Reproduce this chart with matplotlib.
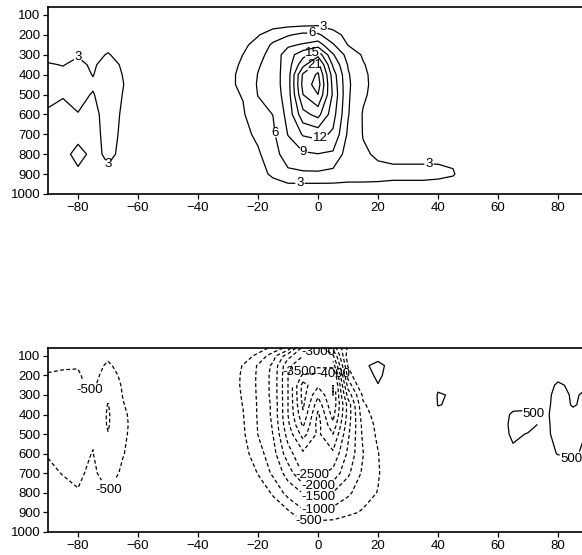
import numpy as np
import matplotlib
matplotlib.use("Agg")
import matplotlib.pyplot as plt

plt.rcParams['font.family'] = ['Liberation Sans', 'DejaVu Sans']

# grid: longitude columns and pressure rows
lon = [-90, -85, -80, -75, -70, -65, -60, -55, -50, -45, -40, -35, -30, -25, -20, -15, -10, -5,
       0, 5, 10, 15, 20, 25, 30, 35, 40, 45, 50, 55, 60, 65, 70, 75, 80, 85, 90]
lev = [60, 100, 150, 200, 250, 300, 350, 400, 450, 500, 600, 700, 800, 900, 950, 1000]

# upper panel field (rows = lev, columns = lon)
top_field = [
    [0, 0, 0, 0, 0, 0, 0, 0, 0, 0, 0, 0, 0, 0, 0, 0.3, 0.5, 0.5, 0.5, 0.3, 0.2, 0.1, 0, 0, 0, 0, 0, 0, 0, 0, 0, 0, 0, 0, 0, 0, 0],
    [0.5, 0.5, 0.5, 0.5, 0.5, 0.5, 0.3, 0.2, 0.2, 0.2, 0.2, 0.2, 0.3, 0.4, 0.6, 0.8, 1, 1, 1, 0.8, 0.5, 0.3, 0.2, 0.2, 0.2, 0.1, 0.1, 0.1, 0.1, 0.1, 0.1, 0.1, 0.1, 0.1, 0.1, 0.1, 0.1],
    [1, 1, 1, 1, 1.2, 1, 0.8, 0.5, 0.5, 0.5, 0.5, 0.5, 0.6, 0.8, 1.5, 2, 2.3, 2.5, 2.7, 2, 1.2, 0.8, 0.5, 0.4, 0.4, 0.3, 0.3, 0.2, 0.2, 0.2, 0.2, 0.2, 0.2, 0.2, 0.2, 0.2, 0.2],
    [1.5, 1.5, 1.5, 1.5, 2.0, 1.6, 1.2, 0.8, 0.8, 0.8, 0.8, 0.8, 1, 1.5, 2.8, 4.5, 5.7, 6.8, 6.5, 4, 2.2, 1.3, 1, 0.8, 0.7, 0.6, 0.5, 0.4, 0.3, 0.3, 0.3, 0.3, 0.3, 0.3, 0.3, 0.3, 0.3],
    [2, 2, 2.3, 2.2, 2.6, 2.2, 1.6, 1, 1, 1, 1, 1, 1.6, 2.4, 4.0, 6.5, 8.5, 9.3, 10.5, 6.3, 2.9, 1.8, 1.3, 1, 0.9, 0.8, 0.7, 0.6, 0.5, 0.4, 0.4, 0.4, 0.4, 0.4, 0.4, 0.4, 0.4],
    [2.6, 2.6, 2.9, 2.6, 3.1, 2.5, 1.8, 1.2, 1.2, 1.2, 1.2, 1.2, 2, 3.02, 5, 7.2, 10.5, 14, 17, 9.3, 4.8, 2.7, 1.6, 1.2, 1.1, 1, 0.9, 0.8, 0.6, 0.5, 0.5, 0.5, 0.5, 0.5, 0.5, 0.5, 0.5],
    [3.1, 2.95, 3.3, 2.8, 3.6, 2.8, 2, 1.3, 1.3, 1.3, 1.3, 1.3, 2.3, 3.3, 5.7, 7.4, 10.5, 17, 22, 11.5, 5.8, 3.2, 1.8, 1.4, 1.3, 1.2, 1, 0.9, 0.7, 0.6, 0.6, 0.6, 0.6, 0.6, 0.6, 0.6, 0.6],
    [3.4, 3.3, 3.5, 2.95, 3.8, 2.95, 2, 1.4, 1.4, 1.4, 1.4, 1.4, 2.5, 3.5, 6.1, 7.5, 10.6, 21.5, 24.5, 13.5, 6.3, 3.5, 2, 1.5, 1.4, 1.3, 1.1, 1, 0.8, 0.7, 0.7, 0.7, 0.7, 0.7, 0.7, 0.7, 0.7],
    [3.5, 3.3, 3.5, 3.2, 3.9, 3.05, 2, 1.4, 1.4, 1.4, 1.4, 1.4, 2.5, 3.5, 6.3, 7.5, 10.6, 22, 25.5, 14, 6.5, 3.6, 2, 1.5, 1.4, 1.3, 1.2, 1.1, 0.9, 0.8, 0.8, 0.8, 0.8, 0.8, 0.8, 0.8, 0.8],
    [3.4, 3.1, 3.4, 2.9, 3.9, 2.95, 2, 1.4, 1.4, 1.4, 1.4, 1.4, 2.4, 3.15, 6.1, 7.2, 10.5, 21, 24, 14.5, 6.4, 3.4, 2, 1.6, 1.5, 1.4, 1.3, 1.2, 1, 0.9, 0.9, 0.9, 0.9, 0.9, 0.9, 0.9, 0.9],
    [2.8, 2.6, 2.95, 2.5, 3.7, 2.8, 1.9, 1.3, 1.3, 1.3, 1.3, 1.3, 2.1, 2.7, 5, 6.05, 10, 17, 19, 13.2, 6.2, 2.8, 2, 1.8, 1.7, 1.6, 1.5, 1.4, 1.2, 1, 1, 1, 1, 1, 1, 1, 1],
    [2, 2, 2.2, 2.4, 3.6, 2.7, 1.8, 1.2, 1.2, 1.2, 1.2, 1.2, 1.8, 2.2, 3.6, 5.5, 9.1, 12.3, 13, 11.5, 5.5, 2.9, 2.3, 2.1, 2, 2, 1.9, 1.8, 1.5, 1.1, 1.1, 1.1, 1.1, 1.1, 1.1, 1.1, 1.1],
    [1.5, 2.2, 3.8, 2.4, 3.4, 2.6, 1.6, 1, 1, 1, 1, 1, 1.5, 1.8, 2.6, 4.8, 7.5, 8.5, 8.9, 8.5, 4.5, 3.3, 2.7, 2.5, 2.5, 2.5, 2.6, 2.6, 1.8, 1.2, 1.2, 1.2, 1.2, 1.2, 1.2, 1.2, 1.2],
    [1, 1.5, 2.5, 2.0, 2.6, 2.0, 1.2, 0.8, 0.8, 0.8, 0.8, 0.8, 1.2, 1.3, 2, 3.5, 5.3, 5.5, 5.5, 5, 3.8, 3.8, 3.6, 3.5, 3.5, 3.5, 3.4, 3.15, 2, 1.2, 1.2, 1.2, 1.2, 1.2, 1.2, 1.2, 1.2],
    [0.8, 1, 1.5, 1.5, 2, 1.5, 1, 0.6, 0.6, 0.6, 0.6, 0.6, 0.8, 1, 1.5, 2.2, 2.8, 2.8, 2.8, 2.8, 2.8, 2.8, 2.8, 2.7, 2.7, 2.7, 2.6, 2.4, 1.5, 1, 1, 1, 1, 1, 1, 1, 1],
    [0.5, 0.5, 1, 1, 1.5, 1, 0.6, 0.4, 0.4, 0.4, 0.4, 0.4, 0.5, 0.6, 1, 1.2, 1.5, 1.5, 1.5, 1.5, 1.5, 1.2, 1.2, 1, 1, 1, 1, 1, 0.8, 0.6, 0.6, 0.6, 0.6, 0.6, 0.6, 0.6, 0.6],
]

# lower panel field
bot_field = [
    [-100, -100, -150, -100, -200, -100, -80, -50, -50, -50, -50, -50, -50, -150, -300, -600, -1200, -2700, -2900, -1800, -400, 0, 200, 100, 50, 50, 100, 100, 100, 100, 150, 150, 150, 150, 200, 200, 200],
    [-300, -320, -350, -200, -400, -200, -150, -100, -100, -100, -100, -100, -150, -300, -600, -1300, -2300, -3000, -3100, -2600, -200, 100, 300, 150, 50, 50, 150, 150, 150, 150, 200, 200, 200, 200, 250, 250, 250],
    [-450, -470, -480, -300, -580, -300, -200, -120, -120, -120, -120, -120, -250, -520, -1050, -1600, -2900, -3300, -3300, -3300, -450, 400, 650, 300, 100, 100, 200, 200, 150, 200, 250, 250, 250, 250, 300, 250, 200],
    [-520, -540, -540, -350, -700, -400, -250, -150, -150, -150, -150, -150, -300, -550, -1080, -1650, -3000, -4100, -4200, -4200, -800, 250, 600, 250, 100, 150, 300, 250, 200, 200, 250, 250, 250, 300, 380, 300, 200],
    [-560, -560, -560, -420, -800, -450, -300, -150, -150, -150, -150, -150, -320, -550, -1080, -1650, -3000, -4700, -4100, -4500, -1300, 0, 480, 100, 100, 200, 450, 350, 200, 250, 300, 300, 300, 300, 560, 420, 480],
    [-600, -590, -580, -520, -900, -480, -300, -150, -150, -150, -150, -150, -320, -530, -1070, -1650, -3000, -4700, -3600, -4500, -1800, -420, 100, 50, 100, 200, 520, 480, 200, 250, 300, 300, 350, 350, 620, 460, 560],
    [-620, -600, -600, -560, -1020, -520, -320, -150, -150, -150, -150, -150, -300, -510, -1050, -1600, -3000, -4600, -3200, -4400, -2300, -560, -250, 0, 100, 200, 510, 470, 200, 250, 300, 380, 420, 400, 600, 480, 560],
    [-620, -600, -600, -570, -1060, -560, -350, -150, -150, -150, -150, -150, -280, -480, -1050, -1600, -3000, -4400, -2900, -4200, -2300, -700, -300, 0, 100, 150, 420, 350, 200, 250, 300, 560, 560, 430, 600, 560, 540],
    [-600, -580, -600, -560, -1050, -580, -350, -150, -150, -150, -150, -150, -250, -450, -1030, -1550, -2900, -4100, -2800, -3900, -2200, -850, -350, -50, 100, 150, 300, 300, 200, 250, 300, 600, 620, 430, 580, 600, 520],
    [-580, -560, -590, -540, -980, -570, -330, -150, -150, -150, -150, -150, -230, -420, -1010, -1510, -2700, -3700, -2900, -3500, -2100, -900, -400, -50, 100, 150, 250, 250, 200, 250, 300, 570, 480, 430, 570, 600, 480],
    [-530, -570, -570, -490, -850, -520, -300, -130, -130, -130, -130, -130, -150, -300, -800, -1300, -2300, -2900, -2700, -2900, -1900, -1020, -520, -100, 50, 100, 200, 200, 200, 250, 300, 420, 430, 420, 510, 560, 400],
    [-400, -520, -560, -420, -700, -420, -250, -100, -100, -100, -100, -100, -80, -150, -520, -1100, -1700, -2550, -2600, -2350, -1600, -900, -550, -100, 0, 50, 150, 150, 150, 200, 250, 300, 300, 300, 300, 350, 300],
    [-300, -350, -480, -350, -480, -250, -150, -80, -80, -80, -80, -80, -50, -50, -250, -550, -1200, -1520, -1650, -1480, -1100, -700, -480, -100, 0, 50, 100, 100, 100, 150, 150, 200, 200, 200, 200, 200, 200],
    [-200, -200, -250, -200, -300, -150, -100, -50, -50, -50, -50, -50, -30, -30, -100, -250, -400, -900, -900, -800, -600, -450, -300, -80, 0, 50, 50, 50, 50, 100, 100, 100, 100, 100, 100, 100, 100],
    [-100, -100, -120, -100, -150, -80, -50, -30, -30, -30, -30, -30, -20, -20, -50, -120, -200, -450, -420, -400, -300, -250, -150, -50, 0, 20, 20, 20, 20, 50, 50, 50, 50, 50, 50, 50, 50],
    [-50, -50, -50, -50, -50, -30, -20, -10, -10, -10, -10, -10, -10, -10, -20, -50, -80, -100, -100, -100, -80, -60, -50, -20, 0, 0, 0, 0, 0, 20, 20, 20, 20, 20, 20, 20, 20],
]

top_levels = [3, 6, 9, 12, 15, 18, 21, 24]
bot_levels = [-4500, -4000, -3500, -3000, -2500, -2000, -1500, -1000, -500, 500]

xticks = [-80, -60, -40, -20, 0, 20, 40, 60, 80]
yticks = [100, 200, 300, 400, 500, 600, 700, 800, 900, 1000]

# label spots, close to where the original puts them
lab_top = {3: [(-80, 300), (-69, 880), (2, 150), (37, 845), (-6, 942)],
           6: [(-2, 192), (-13, 690)],
           9: [(-5, 790)],
           12: [(1, 730)],
           15: [(-2, 280)],
           21: [(-2, 336)]}
lab_bot = {-500: [(-78, 310), (-68, 800), (-3, 940)],
           -1000: [(0, 885)],
           -1500: [(0, 815)],
           -2000: [(0, 760)],
           -2500: [(-2, 700)],
           -3000: [(0, 80)],
           -3500: [(-7, 168)],
           -4000: [(5, 192)],
           500: [(72, 390), (84, 645)]}

fig = plt.figure(figsize=(5.82, 5.55), dpi=100)
W, H = 582, 555
ax1 = fig.add_axes([48 / W, 1 - 194 / H, 540 / W, 187 / H])
ax2 = fig.add_axes([48 / W, 1 - 532 / H, 540 / W, 184 / H])

X, Y = np.meshgrid(lon, lev)


def draw(ax, field, levels, labels):
    Z = np.array(field)
    for v in levels:
        ls = (0, (3, 2)) if v < 0 else 'solid'
        cs = ax.contour(X, Y, Z, levels=[v], colors='k', linewidths=0.9, linestyles=[ls])
        if v in labels:
            txts = cs.clabel(fmt='%d', fontsize=9.5, inline=True, inline_spacing=1,
                             manual=labels[v])
            for t in txts:
                t.set_rotation(0)  # labels in the original are all upright


draw(ax1, top_field, top_levels, lab_top)
draw(ax2, bot_field, bot_levels, lab_bot)

for ax in (ax1, ax2):
    ax.set_xlim(-90, 90)
    ax.set_ylim(1000, 60)
    ax.set_xticks(xticks)
    ax.set_yticks(yticks)
    ax.tick_params(direction='out', length=3.5, width=0.9, labelsize=9.5, pad=2)
    for s in ax.spines.values():
        s.set_linewidth(1.2)

fig.savefig('out.png', dpi=100)
